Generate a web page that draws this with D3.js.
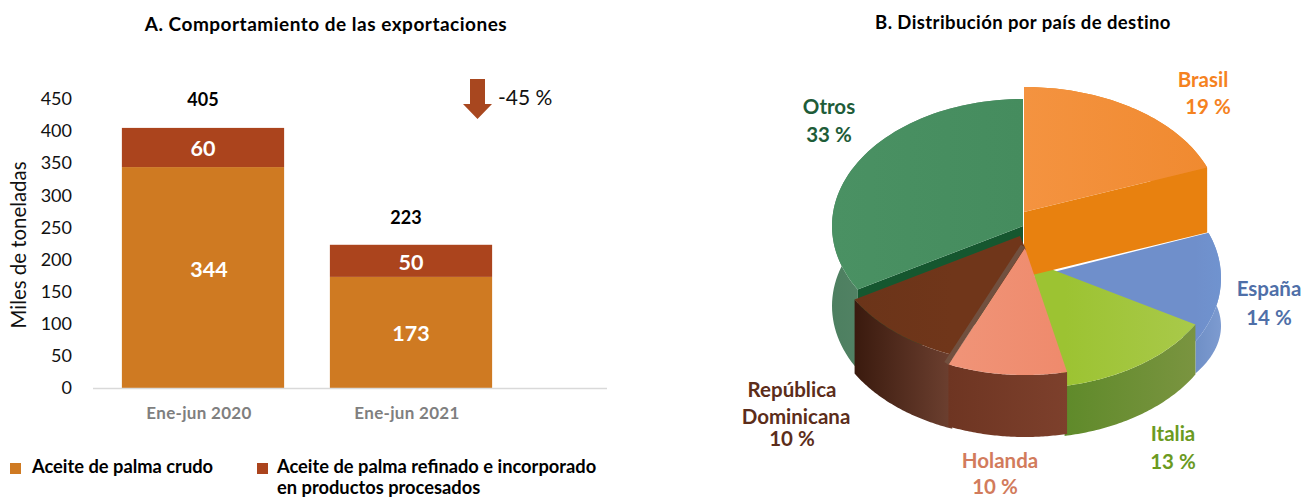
<!DOCTYPE html>
<html><head><meta charset="utf-8">
<script src="https://cdn.jsdelivr.net/npm/d3@7"></script>
<style>
html,body{margin:0;padding:0;background:#fff}
svg{display:block}
text{font-family:Lato,"Open Sans",sans-serif}
</style></head><body><svg id="c" width="1303" height="498"></svg>
<script>
// ---- data ----
const periods = ["Ene-jun 2020", "Ene-jun 2021"];
const crude = [344, 173];
const refined = [60, 50];
const totals = [405, 223];
const yTicks = [0, 50, 100, 150, 200, 250, 300, 350, 400, 450];
const legendLabels = ["Aceite de palma crudo", "Aceite de palma refinado e incorporado", "en productos procesados"];
const countries = ["Brasil", "España", "Italia", "Holanda", "República Dominicana", "Otros"];
const shares = [19, 14, 13, 10, 10, 33];
const changeLabel = "-45 %";

// ---- left chart ----
const svg = d3.select("#c");
const BAR1 = "#cf7a22", BAR2 = "#ab441d";
const defs = svg.append("defs");
const y = d3.scaleLinear().domain([0, 450]).range([388, 99]);
const x = d3.scaleBand().domain(periods).range([99, 515]).paddingInner(0.22).paddingOuter(0.11);

svg.append("text").attr("x", 326).attr("y", 31).attr("text-anchor", "middle").attr("letter-spacing", .5)
  .attr("font-size", 19).attr("font-weight", 700).text("A. Comportamiento de las exportaciones");
svg.append("text").attr("x", 1023).attr("y", 29).attr("text-anchor", "middle").attr("letter-spacing", .4)
  .attr("font-size", 18.5).attr("font-weight", 700).text("B. Distribución por país de destino");

const yAxis = d3.axisLeft(y).tickValues(yTicks).tickSize(0).tickPadding(0);
const ga = svg.append("g").attr("transform", "translate(72,0)").call(yAxis);
ga.select(".domain").remove();
ga.selectAll("text").attr("font-size", 18).attr("fill", "#111").style("font-family", "Lato");

svg.append("text").attr("transform", "translate(26,245) rotate(-90)").attr("text-anchor", "middle")
  .attr("font-size", 20.4).attr("fill", "#111").text("Miles de toneladas");

const crudeNudge = [[6, -8], [0, 1]], refinedNudge = [[0, 1], [0, 2]], totalNudge = [[0, 0], [-5, 1]];
periods.forEach((p, i) => {
  const bx = x(p), w = x.bandwidth();
  svg.append("rect").attr("x", bx).attr("width", w).attr("y", y(crude[i])).attr("height", y(0) - y(crude[i])).attr("fill", BAR1);
  svg.append("rect").attr("x", bx).attr("width", w).attr("y", y(totals[i])).attr("height", y(crude[i]) - y(totals[i])).attr("fill", BAR2);
  const lab = (v, cy, n) => svg.append("text").attr("x", bx + w / 2 + n[0]).attr("y", cy + 7.5 + n[1]).attr("text-anchor", "middle")
    .attr("font-size", 21.5).attr("font-weight", 700).attr("fill", "#fff").text(v);
  lab(crude[i], y(crude[i] / 2), crudeNudge[i]);
  lab(refined[i], y(crude[i] + refined[i] / 2), refinedNudge[i]);
  svg.append("text").attr("x", bx + w / 2 + totalNudge[i][0]).attr("y", y(totals[i]) - 22 + totalNudge[i][1]).attr("text-anchor", "middle")
    .attr("font-size", 18).attr("font-weight", 700).attr("fill", "#000").text(totals[i]);
  svg.append("text").attr("x", bx + w / 2 - 4).attr("y", 419).attr("text-anchor", "middle").attr("letter-spacing", .3)
    .attr("font-size", 17).attr("font-weight", 700).attr("fill", "#7f7f7f").text(p);
});
svg.append("line").attr("x1", 93).attr("x2", 607).attr("y1", y(0) + .5).attr("y2", y(0) + .5).attr("stroke", "#d9d9d9").attr("stroke-width", 1.5);

// change arrow
svg.append("path").attr("d", "M470,79H485V104H492L477.5,119L463,104H470Z").attr("fill", "#a8471f");
svg.append("text").attr("x", 498).attr("y", 105).attr("font-size", 21).attr("fill", "#111").text(changeLabel);

// legend
svg.append("rect").attr("x", 10).attr("y", 463).attr("width", 11).attr("height", 11).attr("fill", BAR1);
svg.append("rect").attr("x", 257).attr("y", 463).attr("width", 11).attr("height", 11).attr("fill", BAR2);
[[32, 473, 0], [277, 473, 1], [277, 494, 2]].forEach(([lx, ly, k]) =>
  svg.append("text").attr("x", lx).attr("y", ly).attr("font-size", 18.3).attr("font-weight", 700).attr("fill", "#000").text(legendLabels[k]));

// ---- right chart: exploded 3D pie ----
const RX = 191, RY = 127;
const arcs = d3.pie().sort(null).startAngle(0).endAngle(2 * Math.PI)(shares);
const look = {
  "Brasil": {cx: 1024, cy: 212, d: 65, rb: 125, ry: 125, rx: 196, top: ["#f49340", "#f08a30"], side: ["#e67f12", "#ea8418"], cut: "#e8810f"},
  "España": {cx: 1030, cy: 278, d: 48, rb: 95, top: ["#6f8fcb", "#7093cf"], side: ["#6f8fc6", "#7d9bd0"]},
  "Italia": {cx: 1030, cy: 261, d: 50, rb: 127, endX: .04, top: ["#9cc332", "#a9c94a"], side: ["#5f8a2a", "#7a9440"]},
  "Holanda": {cx: 1025, cy: 248, d: 62, rb: 127, top: ["#f09478", "#ef8a6c"], side: ["#6e3522", "#7d402c"], rim: "#71503f"},
  "República Dominicana": {cx: 1020, cy: 236, d: 74, rb: 127, startX: .05, notch: [6, 14], top: ["#6b3419", "#70361a"], side: ["#3a1a0e", "#6d4030"]},
  "Otros": {cx: 1023, cy: 226, d: 80, rb: 127, top: ["#4a9163", "#458c5e"], side: ["#4d7f60", "#6a947a"], cut: "#15572f"}
};
const pt = (c, a, dy = 0, ry = c.ry || RY) => [c.cx + (c.rx || RX) * Math.sin(a), c.cy + dy - ry * Math.cos(a)];
const line = d3.line();
const steps = (a0, a1) => d3.range(0, 61).map(i => a0 + (a1 - a0) * i / 60);

function grad(id, cols, x1, x2) {
  const g = defs.append("linearGradient").attr("id", id).attr("gradientUnits", "userSpaceOnUse")
    .attr("x1", x1).attr("x2", x2).attr("y1", 0).attr("y2", 0);
  g.append("stop").attr("offset", 0).attr("stop-color", cols[0]);
  g.append("stop").attr("offset", 1).attr("stop-color", cols[1]);
}

const drawOrder = ["Otros", "España", "Italia", "Brasil", "República Dominicana", "Holanda"];
drawOrder.forEach(name => {
  const i = countries.indexOf(name), s = arcs[i], c = look[name];
  const A = steps(s.startAngle - (c.startX || 0), s.endAngle + (c.endX || 0));
  const xs = A.map(a => pt(c, a)[0]);
  const xmin = d3.min(xs), xmax = d3.max(xs);
  grad("s" + i, c.side, xmin, xmax);
  grad("t" + i, c.top, xmin, xmax);
  const g = svg.append("g");
  // outer wall
  const outer = A.map(a => pt(c, a));
  const lower = A.slice().reverse().map(a => pt(c, a, c.d, c.rb));
  g.append("path").attr("fill", `url(#s${i})`).attr("d", line(outer.concat(lower)) + "Z");
  // cut wall along the slice's exposed radial edge
  if (c.cut) {
    const e = name === "Brasil" ? s.endAngle : s.startAngle;
    const p = pt(c, e);
    g.append("path").attr("fill", c.cut)
      .attr("d", line([[c.cx, c.cy], p, [p[0], p[1] + c.d], [c.cx, c.cy + c.d]]) + "Z");
  }
  // top face
  const hub = [[c.cx, c.cy]];
  if (c.notch) hub.push([c.cx + c.notch[0], c.cy + c.notch[1]]);
  g.append("path").attr("fill", `url(#t${i})`).attr("d", line(hub.concat(outer)) + "Z");
  if (c.rim) {
    g.append("line").attr("x1", c.cx - 2).attr("y1", c.cy - 2)
      .attr("x2", outer[60][0] - 2).attr("y2", outer[60][1] - 1)
      .attr("stroke", c.rim).attr("stroke-width", 5);
  }
});

// pie labels
const labelRows = {
  "Brasil": {c: "#f5821f", anchor: [[1203, 87, "Brasil"], [1208, 114, shares[0] + " %"]]},
  "España": {c: "#4f6fa8", anchor: [[1269, 296, "España"], [1269, 325, shares[1] + " %"]]},
  "Italia": {c: "#6b9a1f", anchor: [[1173, 441, "Italia"], [1173, 469, shares[2] + " %"]]},
  "Holanda": {c: "#d27b5c", anchor: [[1000, 468, "Holanda"], [995, 493.5, shares[3] + " %"]]},
  "República Dominicana": {c: "#5c2d1a", anchor: [[792, 397, "República"], [796, 424, "Dominicana"], [792, 446, shares[4] + " %"]]},
  "Otros": {c: "#1e5c38", anchor: [[829, 114, "Otros"], [829, 142, shares[5] + " %"]]}
};
countries.forEach(n => labelRows[n].anchor.forEach(([lx, ly, t]) =>
  svg.append("text").attr("x", lx).attr("y", ly).attr("text-anchor", "middle")
    .attr("font-size", 20.5).attr("font-weight", 700).attr("fill", labelRows[n].c).text(t)));
</script></body></html>
